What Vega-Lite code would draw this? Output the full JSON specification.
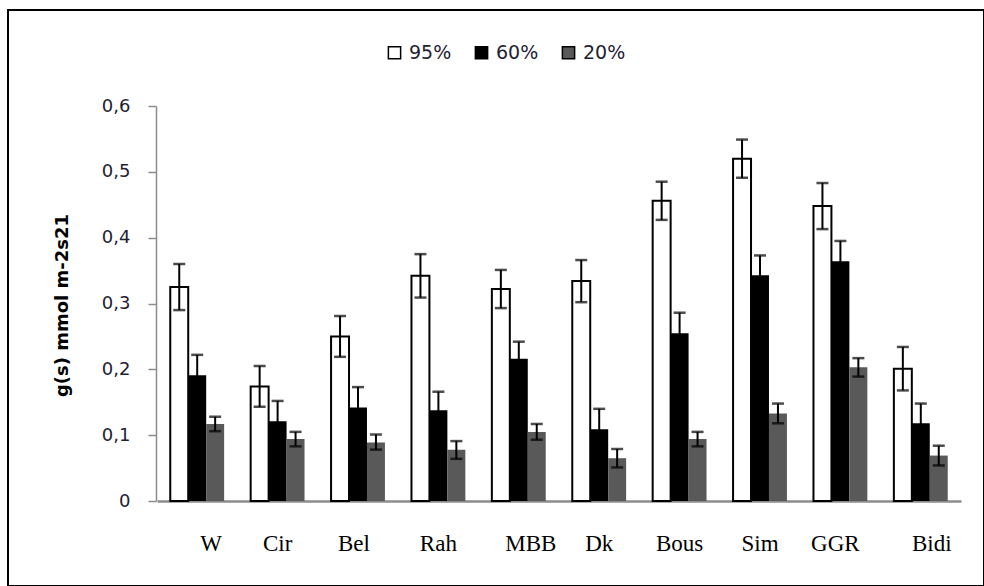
{
  "$schema": "https://vega.github.io/schema/vega-lite/v6.json",
  "width": 976,
  "height": 576,
  "autosize": {"type": "none"},
  "padding": {"left": 8, "top": 10, "right": 0, "bottom": 0},
  "background": "white",
  "config": {
    "view": {"stroke": "black", "strokeWidth": 2},
    "axis": {"grid": false}
  },
  "data": {
    "values": [
      {"site": "W", "level": "95%", "g": 0.325, "lo": 0.290, "hi": 0.360},
      {"site": "W", "level": "60%", "g": 0.191, "lo": 0.160, "hi": 0.222},
      {"site": "W", "level": "20%", "g": 0.117, "lo": 0.106, "hi": 0.128},
      {"site": "Cir", "level": "95%", "g": 0.174, "lo": 0.143, "hi": 0.205},
      {"site": "Cir", "level": "60%", "g": 0.121, "lo": 0.090, "hi": 0.152},
      {"site": "Cir", "level": "20%", "g": 0.094, "lo": 0.083, "hi": 0.105},
      {"site": "Bel", "level": "95%", "g": 0.250, "lo": 0.219, "hi": 0.281},
      {"site": "Bel", "level": "60%", "g": 0.142, "lo": 0.111, "hi": 0.173},
      {"site": "Bel", "level": "20%", "g": 0.089, "lo": 0.078, "hi": 0.101},
      {"site": "Rah", "level": "95%", "g": 0.342, "lo": 0.309, "hi": 0.375},
      {"site": "Rah", "level": "60%", "g": 0.138, "lo": 0.110, "hi": 0.166},
      {"site": "Rah", "level": "20%", "g": 0.078, "lo": 0.064, "hi": 0.091},
      {"site": "MBB", "level": "95%", "g": 0.322, "lo": 0.293, "hi": 0.351},
      {"site": "MBB", "level": "60%", "g": 0.216, "lo": 0.190, "hi": 0.242},
      {"site": "MBB", "level": "20%", "g": 0.105, "lo": 0.093, "hi": 0.117},
      {"site": "Dk", "level": "95%", "g": 0.334, "lo": 0.302, "hi": 0.366},
      {"site": "Dk", "level": "60%", "g": 0.109, "lo": 0.078, "hi": 0.140},
      {"site": "Dk", "level": "20%", "g": 0.065, "lo": 0.051, "hi": 0.079},
      {"site": "Bous", "level": "95%", "g": 0.456, "lo": 0.427, "hi": 0.485},
      {"site": "Bous", "level": "60%", "g": 0.255, "lo": 0.224, "hi": 0.286},
      {"site": "Bous", "level": "20%", "g": 0.094, "lo": 0.083, "hi": 0.105},
      {"site": "Sim", "level": "95%", "g": 0.520, "lo": 0.491, "hi": 0.549},
      {"site": "Sim", "level": "60%", "g": 0.343, "lo": 0.313, "hi": 0.373},
      {"site": "Sim", "level": "20%", "g": 0.133, "lo": 0.118, "hi": 0.148},
      {"site": "GGR", "level": "95%", "g": 0.448, "lo": 0.413, "hi": 0.483},
      {"site": "GGR", "level": "60%", "g": 0.364, "lo": 0.333, "hi": 0.395},
      {"site": "GGR", "level": "20%", "g": 0.203, "lo": 0.189, "hi": 0.217},
      {"site": "Bidi", "level": "95%", "g": 0.201, "lo": 0.168, "hi": 0.234},
      {"site": "Bidi", "level": "60%", "g": 0.118, "lo": 0.088, "hi": 0.148},
      {"site": "Bidi", "level": "20%", "g": 0.069, "lo": 0.054, "hi": 0.084}
    ]
  },
  "encoding": {
    "x": {
      "field": "site",
      "type": "nominal",
      "sort": ["W", "Cir", "Bel", "Rah", "MBB", "Dk", "Bous", "Sim", "GGR", "Bidi"],
      "scale": {"range": [149, 953], "paddingInner": 0.33, "paddingOuter": 0.165},
      "axis": {
        "title": null,
        "offset": -85,
        "labelAngle": 0,
        "labelFont": "Liberation Serif",
        "labelFontSize": 23,
        "labelColor": "black",
        "labelPadding": 31,
        "labelOffset": {"expr": "datum.value == 'W' ? 14 : datum.value == 'MBB' ? 12 : datum.value == 'Bidi' ? 11 : datum.value == 'GGR' ? -5 : datum.value == 'Bel' ? -4 : 0"},
        "ticks": false,
        "domainColor": "#8c8c8c",
        "domainWidth": 2.5
      }
    },
    "xOffset": {"field": "level", "type": "nominal", "sort": ["95%", "60%", "20%"]}
  },
  "layer": [
    {
      "mark": {"type": "bar", "strokeWidth": 2},
      "encoding": {
        "y": {
          "field": "g",
          "type": "quantitative",
          "scale": {"domain": [0, 0.6], "range": [491, 96], "nice": false},
          "axis": {
            "offset": -148,
            "values": [0, 0.1, 0.2, 0.3, 0.4, 0.5, 0.6],
            "labelExpr": "datum.value == 0 ? '0' : replace(format(datum.value, '.1f'), '.', ',')",
            "labelFont": "DejaVu Sans",
            "labelFontSize": 18,
            "labelColor": "#1f2233",
            "labelPadding": 18,
            "tickSize": 8,
            "tickColor": "#8c8c8c",
            "tickWidth": 1.5,
            "domainColor": "#8c8c8c",
            "domainWidth": 1.5,
            "title": "g(s) mmol m-2s21",
            "titleFont": "DejaVu Sans",
            "titleFontSize": 18,
            "titleFontWeight": "bold",
            "titleColor": "black",
            "titleAngle": -90,
            "titleAlign": "center",
            "titleBaseline": "middle",
            "titleX": -94,
            "titleY": 295
          }
        },
        "fill": {
          "field": "level",
          "type": "nominal",
          "sort": ["95%", "60%", "20%"],
          "scale": {"domain": ["95%", "60%", "20%"], "range": ["white", "black", "#595959"]},
          "legend": {
            "title": null,
            "orient": "none",
            "direction": "horizontal",
            "legendX": 377,
            "legendY": 33,
            "symbolType": "square",
            "symbolSize": 150,
            "symbolStrokeColor": "black",
            "symbolStrokeWidth": 1.5,
            "labelFont": "DejaVu Sans",
            "labelFontSize": 19,
            "labelColor": "#1f2233",
            "labelOffset": 5,
            "columnPadding": 20
          }
        },
        "stroke": {
          "condition": {"test": "datum.level == '95%'", "value": "black"},
          "value": "transparent"
        }
      }
    },
    {
      "mark": {"type": "rule", "color": "black", "strokeWidth": 2},
      "encoding": {
        "y": {"field": "lo", "type": "quantitative"},
        "y2": {"field": "hi"}
      }
    },
    {
      "mark": {"type": "tick", "color": "black", "thickness": 2.5, "size": 12},
      "encoding": {"y": {"field": "lo", "type": "quantitative"}}
    },
    {
      "mark": {"type": "tick", "color": "black", "thickness": 2.5, "size": 12},
      "encoding": {"y": {"field": "hi", "type": "quantitative"}}
    }
  ]
}
